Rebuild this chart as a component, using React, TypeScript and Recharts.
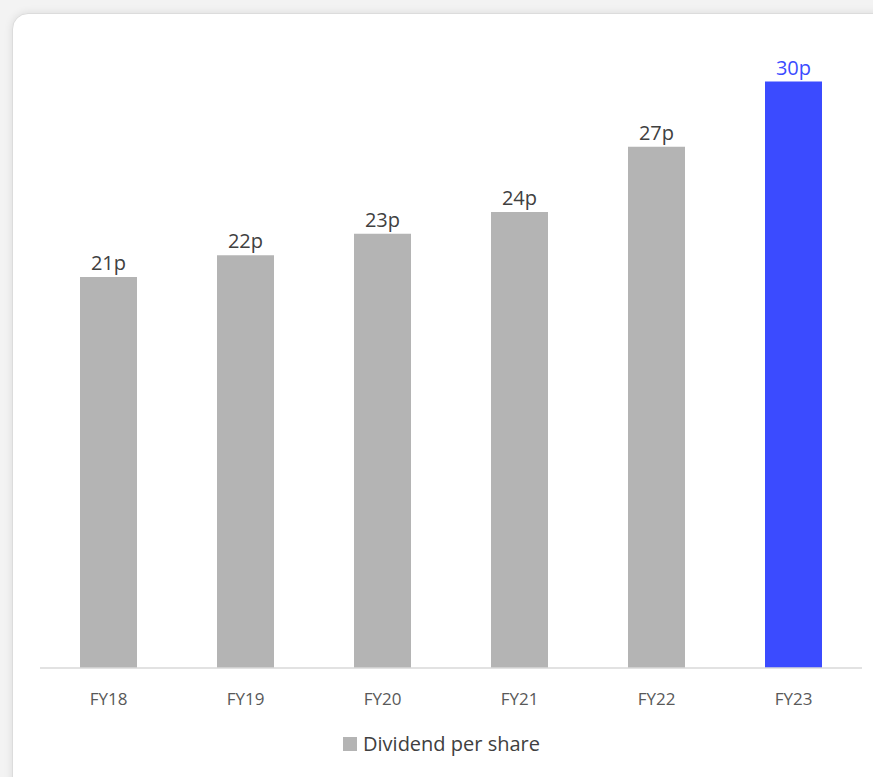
import { BarChart, Bar, XAxis, YAxis, Cell, LabelList } from 'recharts';

const years = ['FY18', 'FY19', 'FY20', 'FY21', 'FY22', 'FY23'];
const dividends = [21, 22, 23, 24, 27, 30];
const labels = ['21p', '22p', '23p', '24p', '27p', '30p'];

const GREY = '#b4b4b4';
const BLUE = '#3b4bff';
const FONT = '"Open Sans", "Noto Sans", sans-serif';

const data = years.map((year, i) => ({ year, value: dividends[i], label: labels[i] }));

function ValueLabel(props: any) {
  const { x, y, width, index, value } = props;
  const last = index === data.length - 1;
  return (
    <text
      x={x + width / 2}
      y={y - 7}
      textAnchor="middle"
      fontSize={20}
      fontFamily={FONT}
      fill={last ? BLUE : '#404040'}
    >
      {value}
    </text>
  );
}

function YearTick(props: any) {
  const { x, y, payload } = props;
  return (
    <text x={x} y={y + 35} textAnchor="middle" fontSize={17} fontFamily={FONT} fill="#595959">
      {payload.value}
    </text>
  );
}

export default function App() {
  return (
    <div
      style={{
        position: 'fixed',
        left: 0,
        top: 0,
        width: 873,
        height: 777,
        overflow: 'hidden',
        background: '#f3f3f3',
        fontFamily: FONT,
      }}
    >
      <div
        style={{
          position: 'absolute',
          left: 12,
          top: 13,
          width: 900,
          height: 800,
          background: '#fff',
          border: '1px solid #dcdcdc',
          borderRadius: 16,
          boxShadow: '0 0 8px rgba(0,0,0,0.10)',
        }}
      />
      <div style={{ position: 'absolute', left: 0, top: 0 }}>
        <BarChart
          width={873}
          height={777}
          data={data}
          margin={{ top: 36, right: 11, bottom: 79, left: 40 }}
        >
          <YAxis hide domain={[3, 32.1]} allowDataOverflow />
          <XAxis
            dataKey="year"
            height={30}
            axisLine={{ stroke: '#d9d9d9', strokeWidth: 1.5 }}
            tickLine={false}
            tickSize={0}
            tick={<YearTick />}
          />
          <Bar dataKey="value" barSize={57} isAnimationActive={false}>
            {data.map((d, i) => (
              <Cell key={d.year} fill={i === data.length - 1 ? BLUE : GREY} />
            ))}
            <LabelList dataKey="label" content={ValueLabel} />
          </Bar>
        </BarChart>
      </div>
      <div
        style={{
          position: 'absolute',
          left: 0,
          top: 730,
          width: 883,
          display: 'flex',
          justifyContent: 'center',
          alignItems: 'center',
          fontSize: 20,
          color: '#404040',
        }}
      >
        <span style={{ width: 14, height: 14, background: GREY, marginRight: 6, display: 'inline-block' }} />
        <span>Dividend per share</span>
      </div>
    </div>
  );
}
